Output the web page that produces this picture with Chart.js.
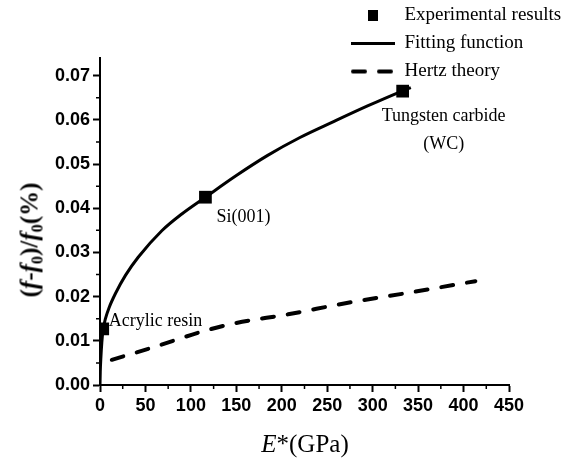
<!DOCTYPE html>
<html>
<head>
<meta charset="utf-8">
<script src="https://cdn.jsdelivr.net/npm/chart.js@4.4.0/dist/chart.umd.min.js"></script>
<style>
    html, body { margin: 0; padding: 0; background: #fff; }
    #wrap { position: relative; width: 568px; height: 463px; }
    #chart { display: block; }
    .axis-title {
        position: absolute;
        font-family: 'Liberation Serif', 'Times New Roman', serif;
        color: #000;
        white-space: nowrap;
        line-height: 1;
    }
    #ytitle { left: 29px; top: 240px; font-size: 25px; font-weight: bold; transform: translate(-50%, -50%) rotate(-90deg); }
    #xtitle { left: 305px; top: 443px; font-size: 25px; transform: translate(-50%, -50%); }
    sub { font-size: 0.65em; vertical-align: -0.3em; line-height: 0; }
</style>
</head>
<body>
<div id="wrap">
    <canvas id="chart" width="568" height="463"></canvas>
    <div id="ytitle" class="axis-title">(<i>f</i>-<i>f</i><sub>0</sub>)/<i>f</i><sub>0</sub>(%)</div>
    <div id="xtitle" class="axis-title"><i>E</i>*(GPa)</div>
</div>
<script>
// 数据
const seriesNames = ['Experimental results', 'Fitting function', 'Hertz theory'];

const expNames = ['Acrylic resin', 'Si(001)', 'Tungsten carbide\n(WC)'];
const expX = [3, 116, 333];
const expY = [0.0127, 0.0425, 0.0665];

const fitX = [0, 0.3, 1, 2, 3.3, 6, 10, 17, 28, 42, 68, 90, 116, 150, 184, 220, 257, 295, 331, 342];
const fitY = [0, 0.003, 0.0063, 0.0096, 0.0124, 0.015, 0.0175, 0.0207, 0.0248, 0.0289, 0.0349, 0.0387, 0.0425, 0.0474, 0.0519, 0.056, 0.0596, 0.0632, 0.0664, 0.0673];

const hertzX = [13, 55, 116, 149, 207, 270, 349, 413];
const hertzY = [0.0057, 0.0083, 0.0123, 0.014, 0.016, 0.0185, 0.0212, 0.0235];

const xTicks = [0, 50, 100, 150, 200, 250, 300, 350, 400, 450];
const yTicks = [0, 0.01, 0.02, 0.03, 0.04, 0.05, 0.06, 0.07];

function toPoints(xs, ys) {
    return xs.map((x, i) => ({ x: x, y: ys[i] }));
}

// 图例里的小方块
const squareIcon = document.createElement('canvas');
squareIcon.width = 10;
squareIcon.height = 11;
const sctx = squareIcon.getContext('2d');
sctx.fillStyle = '#000';
sctx.fillRect(0, 0, 10, 11);

// 图例里的虚线（usePointStyle 时不画 borderDash）
const dashIcon = document.createElement('canvas');
dashIcon.width = 44;
dashIcon.height = 6;
const dctx = dashIcon.getContext('2d');
dctx.strokeStyle = '#000';
dctx.lineWidth = 4;
dctx.lineCap = 'round';
dctx.setLineDash([12, 14]);
dctx.beginPath();
dctx.moveTo(2, 3);
dctx.lineTo(44, 3);
dctx.stroke();

const tickFont = { family: "'Liberation Sans', Arial, sans-serif", size: 18, weight: 'bold' };
const serifFont = "'Liberation Serif', 'Times New Roman', serif";

// 次刻度
const minorTicks = {
    id: 'minorTicks',
    afterDraw(chart) {
        const { ctx, scales: { x, y } } = chart;
        ctx.save();
        ctx.strokeStyle = '#000';
        ctx.lineWidth = 1.5;
        ctx.beginPath();
        for (let i = 0; i < xTicks.length - 1; i++) {
            const px = x.getPixelForValue((xTicks[i] + xTicks[i + 1]) / 2);
            ctx.moveTo(px, y.bottom);
            ctx.lineTo(px, y.bottom + 4);
        }
        for (let i = 0; i < yTicks.length - 1; i++) {
            const py = y.getPixelForValue((yTicks[i] + yTicks[i + 1]) / 2);
            ctx.moveTo(x.left, py);
            ctx.lineTo(x.left - 4, py);
        }
        ctx.stroke();
        ctx.restore();
    }
};

// 数据点旁的文字
const pointNames = {
    id: 'pointNames',
    afterDatasetsDraw(chart) {
        const ctx = chart.ctx;
        const pts = chart.getDatasetMeta(0).data;
        const offsets = [[6, -8, 'left'], [11, 20, 'left'], [41, 25, 'center']];
        ctx.save();
        ctx.fillStyle = '#000';
        ctx.font = '18px ' + serifFont;
        ctx.textBaseline = 'middle';
        expNames.forEach((name, i) => {
            const p = pts[i];
            const [dx, dy, align] = offsets[i];
            ctx.textAlign = align;
            name.split('\n').forEach((line, k) => {
                ctx.fillText(line, p.x + dx, p.y + dy + k * 28);
            });
        });
        ctx.restore();
    }
};

// 把图例挪到右上角
const placeLegend = {
    id: 'placeLegend',
    afterLayout(chart) {
        const lg = chart.legend;
        lg.left = 342;
        lg.top = -3;
        lg.right = 568;
        lg.bottom = 150;
        lg.width = lg.right - lg.left;
        lg.height = lg.bottom - lg.top;
    }
};

new Chart(document.getElementById('chart'), {
    type: 'scatter',
    data: {
        datasets: [{
            label: seriesNames[0],
            data: toPoints(expX, expY),
            pointStyle: 'rect',
            pointRadius: 9,
            backgroundColor: '#000',
            borderColor: '#000',
            borderWidth: 0,
            showLine: false
        }, {
            label: seriesNames[1],
            data: toPoints(fitX, fitY),
            showLine: true,
            pointRadius: 0,
            pointStyle: 'line',
            borderColor: '#000',
            backgroundColor: '#000',
            borderWidth: 3,
            cubicInterpolationMode: 'monotone'
        }, {
            label: seriesNames[2],
            data: toPoints(hertzX, hertzY),
            showLine: true,
            pointRadius: 0,
            pointStyle: 'line',
            borderColor: '#000',
            backgroundColor: '#000',
            borderWidth: 4,
            borderDash: [12, 14],
            borderCapStyle: 'round',
            cubicInterpolationMode: 'monotone'
        }]
    },
    options: {
        responsive: false,
        animation: false,
        devicePixelRatio: 1,
        layout: { padding: { top: 58, right: 59, left: 0, bottom: 0 } },
        plugins: {
            tooltip: { enabled: false },
            legend: {
                position: 'chartArea',
                align: 'start',
                labels: {
                    usePointStyle: true,
                    pointStyleWidth: 44,
                    boxHeight: 19,
                    padding: 9,
                    color: '#000',
                    font: { family: serifFont, size: 19 },
                    generateLabels(chart) {
                        const items = Chart.defaults.plugins.legend.labels.generateLabels(chart);
                        items[0].pointStyle = squareIcon;
                        items[2].pointStyle = dashIcon;
                        return items;
                    }
                }
            }
        },
        scales: {
            x: {
                type: 'linear',
                min: 0,
                max: 450,
                afterBuildTicks: s => { s.ticks = xTicks.map(v => ({ value: v })); },
                afterFit: s => { s.height = 78; },
                border: { color: '#000', width: 2 },
                grid: { drawOnChartArea: false, tickLength: 7, tickColor: '#000', tickWidth: 2 },
                ticks: { color: '#000', padding: 3, font: tickFont, maxRotation: 0, autoSkip: false }
            },
            y: {
                type: 'linear',
                min: 0,
                max: 0.074,
                afterBuildTicks: s => { s.ticks = yTicks.map(v => ({ value: v })); },
                afterFit: s => { s.width = 100; },
                border: { color: '#000', width: 2 },
                grid: { drawOnChartArea: false, tickLength: 7, tickColor: '#000', tickWidth: 2 },
                ticks: { color: '#000', padding: 3, font: tickFont, autoSkip: false, callback: v => v.toFixed(2) }
            }
        }
    },
    plugins: [minorTicks, pointNames, placeLegend]
});
</script>
</body>
</html>
